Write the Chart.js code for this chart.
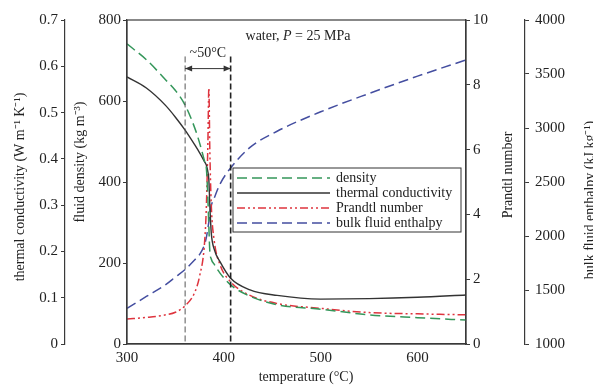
<!DOCTYPE html>
<html>
<head>
<meta charset="utf-8">
<script src="https://cdn.jsdelivr.net/npm/chart.js@4.4.1/dist/chart.umd.min.js"></script>
<style>
  html, body { margin: 0; padding: 0; background: #fff; }
  #wrap { width: 593px; height: 385px; }
</style>
</head>
<body>
<div id="wrap"><canvas id="chart" width="593" height="385"></canvas></div>
<script>
// values (water at P = 25 MPa)
const temps        = [300, 320, 340, 350, 360, 370, 375, 380, 382, 383.5, 384.5, 385.5, 387, 390, 396, 407, 427, 455, 500, 550, 600, 650];
const density      = [741, 702, 652, 626, 590, 533, 496, 452, 432, 360, 290, 230, 210, 197, 175, 146, 118, 97, 86, 72, 65, 59];
const conductivity = [0.577, 0.553, 0.515, 0.49, 0.462, 0.43, 0.413, 0.394, 0.386, 0.372, 0.355, 0.3, 0.24, 0.205, 0.178, 0.142, 0.117, 0.105, 0.097, 0.098, 0.101, 0.106];
const prandtl      = [0.77, 0.82, 0.9, 0.98, 1.18, 1.6, 2.1, 3.1, 4.3, 6.2, 7.9, 6.0, 4.3, 3.2, 2.45, 1.92, 1.5, 1.25, 1.1, 0.97, 0.93, 0.9];
const enthalpy     = [1330, 1440, 1550, 1620, 1690, 1780, 1830, 1920, 1990, 2070, 2130, 2200, 2280, 2350, 2480, 2630, 2820, 2970, 3150, 3320, 3480, 3630];

// axis ranges [min, max, step]
const tempRange = [300, 650, 100];
const densRange = [0, 800, 200];
const condRange = [0, 0.7, 0.1];
const prRange   = [0, 10, 2];
const enthRange = [1000, 4000, 500];

// the ~50°C band around the pseudo-critical point
const bracket = [360, 407];

const serif = '"Liberation Serif", "Times New Roman", serif';
const axisCol = '#3a3a3a';

const pts = ys => temps.map((t, i) => ({ x: t, y: ys[i] }));

function yAxis(pos, range, width, weight, pad, fmt) {
  return {
    type: 'linear', position: pos, weight: weight,
    min: range[0], max: range[1],
    ticks: { stepSize: range[2], color: '#222', padding: pad, font: { family: serif, size: 15 },
             callback: fmt || (v => v) },
    grid: { drawOnChartArea: false, drawTicks: true, tickLength: 4, color: axisCol, lineWidth: 1 },
    border: { display: true, color: axisCol, width: 1.2 },
    afterFit: s => { s.width = width; }
  };
}

const decor = {
  id: 'decor',
  afterDraw(chart) {
    const { ctx, chartArea: a, scales } = chart;
    const x = scales.x, yd = scales.dens;
    ctx.save();

    // frame
    ctx.strokeStyle = axisCol; ctx.lineWidth = 1.2;
    ctx.strokeRect(a.left, a.top, a.right - a.left, a.bottom - a.top);

    // bracket lines + arrow
    const xa = x.getPixelForValue(bracket[0]), xb = x.getPixelForValue(bracket[1]);
    const yTop = yd.getPixelForValue(710), yArr = yd.getPixelForValue(680);
    ctx.setLineDash([6, 3]);
    ctx.strokeStyle = '#555'; ctx.lineWidth = 1;
    ctx.beginPath(); ctx.moveTo(xa, yTop); ctx.lineTo(xa, a.bottom); ctx.stroke();
    ctx.strokeStyle = '#222'; ctx.lineWidth = 1.6;
    ctx.beginPath(); ctx.moveTo(xb, yTop); ctx.lineTo(xb, a.bottom); ctx.stroke();
    ctx.setLineDash([]);
    ctx.strokeStyle = '#333'; ctx.lineWidth = 1;
    ctx.beginPath(); ctx.moveTo(xa, yArr); ctx.lineTo(xb, yArr); ctx.stroke();
    ctx.fillStyle = '#333';
    ctx.beginPath(); ctx.moveTo(xa, yArr); ctx.lineTo(xa + 7, yArr - 3); ctx.lineTo(xa + 7, yArr + 3); ctx.fill();
    ctx.beginPath(); ctx.moveTo(xb, yArr); ctx.lineTo(xb - 7, yArr - 3); ctx.lineTo(xb - 7, yArr + 3); ctx.fill();

    ctx.fillStyle = '#222';
    ctx.font = '14px ' + serif;
    ctx.textAlign = 'center'; ctx.textBaseline = 'middle';
    ctx.fillText('~50°C', (xa + xb) / 2, 53);

    // water, P = 25 MPa
    const p1 = 'water, ', p2 = 'P', p3 = ' = 25 MPa';
    ctx.font = '14px ' + serif;
    const w1 = ctx.measureText(p1).width, w3 = ctx.measureText(p3).width;
    ctx.font = 'italic 14px ' + serif;
    const w2 = ctx.measureText(p2).width;
    let tx = 298 - (w1 + w2 + w3) / 2;
    ctx.textAlign = 'left';
    ctx.font = '14px ' + serif; ctx.fillText(p1, tx, 36); tx += w1;
    ctx.font = 'italic 14px ' + serif; ctx.fillText(p2, tx, 36); tx += w2;
    ctx.font = '14px ' + serif; ctx.fillText(p3, tx, 36);

    // legend
    const lx = a.left + 106, ly = a.top + 148, lw = 228, lh = 64;
    ctx.fillStyle = '#fff'; ctx.fillRect(lx, ly, lw, lh);
    ctx.strokeStyle = '#333'; ctx.lineWidth = 1; ctx.strokeRect(lx, ly, lw, lh);
    chart.data.datasets.forEach((ds, i) => {
      const yy = ly + 10 + i * 15;
      ctx.setLineDash(ds.borderDash || []);
      ctx.strokeStyle = ds.borderColor; ctx.lineWidth = ds.borderWidth;
      ctx.beginPath(); ctx.moveTo(lx + 4, yy); ctx.lineTo(lx + 97, yy); ctx.stroke();
      ctx.setLineDash([]);
      ctx.fillStyle = '#222'; ctx.font = '14px ' + serif;
      ctx.textAlign = 'left'; ctx.textBaseline = 'middle';
      ctx.fillText(ds.label, lx + 103, yy);
    });

    // axis titles
    const vtitle = (txt, cx, cy) => {
      ctx.save(); ctx.translate(cx, cy); ctx.rotate(-Math.PI / 2);
      ctx.textAlign = 'center'; ctx.textBaseline = 'middle';
      ctx.fillText(txt, 0, 0); ctx.restore();
    };
    ctx.fillStyle = '#222'; ctx.font = '14px ' + serif;
    vtitle('thermal conductivity (W m\u207B\u00B9 K\u207B\u00B9)', 20, 187);
    vtitle('fluid density (kg m\u207B\u00B3)', 80, 162);
    vtitle('Prandtl number', 508, 175);
    vtitle('bulk fluid enthalpy (kJ kg\u207B\u00B9)', 590, 200);
    ctx.textAlign = 'center'; ctx.textBaseline = 'middle';
    ctx.fillText('temperature (°C)', 306, 377);

    ctx.restore();
  }
};

new Chart(document.getElementById('chart'), {
  type: 'line',
  data: {
    datasets: [
      { label: 'density', data: pts(density), yAxisID: 'dens',
        borderColor: 'rgb(52,150,90)', borderWidth: 1.5, borderDash: [10, 5] },
      { label: 'thermal conductivity', data: pts(conductivity), yAxisID: 'cond',
        borderColor: '#333', borderWidth: 1.4 },
      { label: 'Prandtl number', data: pts(prandtl), yAxisID: 'pr',
        borderColor: 'rgb(222,52,62)', borderWidth: 1.5, borderDash: [8, 3, 2, 3, 2, 3] },
      { label: 'bulk fluid enthalpy', data: pts(enthalpy), yAxisID: 'enth',
        borderColor: 'rgb(68,78,160)', borderWidth: 1.5, borderDash: [10, 5] }
    ]
  },
  options: {
    responsive: false,
    animation: false,
    layout: { padding: { top: 20, left: 0, right: 0, bottom: 0 } },
    elements: { point: { radius: 0 }, line: { cubicInterpolationMode: 'monotone', fill: false } },
    plugins: { legend: { display: false }, tooltip: { enabled: false } },
    scales: {
      x: {
        type: 'linear', min: tempRange[0], max: tempRange[1],
        ticks: { stepSize: tempRange[2], color: '#222', padding: 5, font: { family: serif, size: 15 } },
        afterBuildTicks: s => { s.ticks = s.ticks.filter(t => t.value % 100 === 0); },
        grid: { display: false, drawTicks: false },
        border: { display: true, color: axisCol, width: 1.2 },
        afterFit: s => { s.height = 41; }
      },
      dens: yAxis('left', densRange, 62, 0, 2),
      cond: yAxis('left', condRange, 65, 1, 3, v => (v === 0 ? '0' : v.toFixed(1))),
      pr:   yAxis('right', prRange, 59, 0, 3),
      enth: yAxis('right', enthRange, 68, 1, 6)
    }
  },
  plugins: [decor]
});
</script>
</body>
</html>
